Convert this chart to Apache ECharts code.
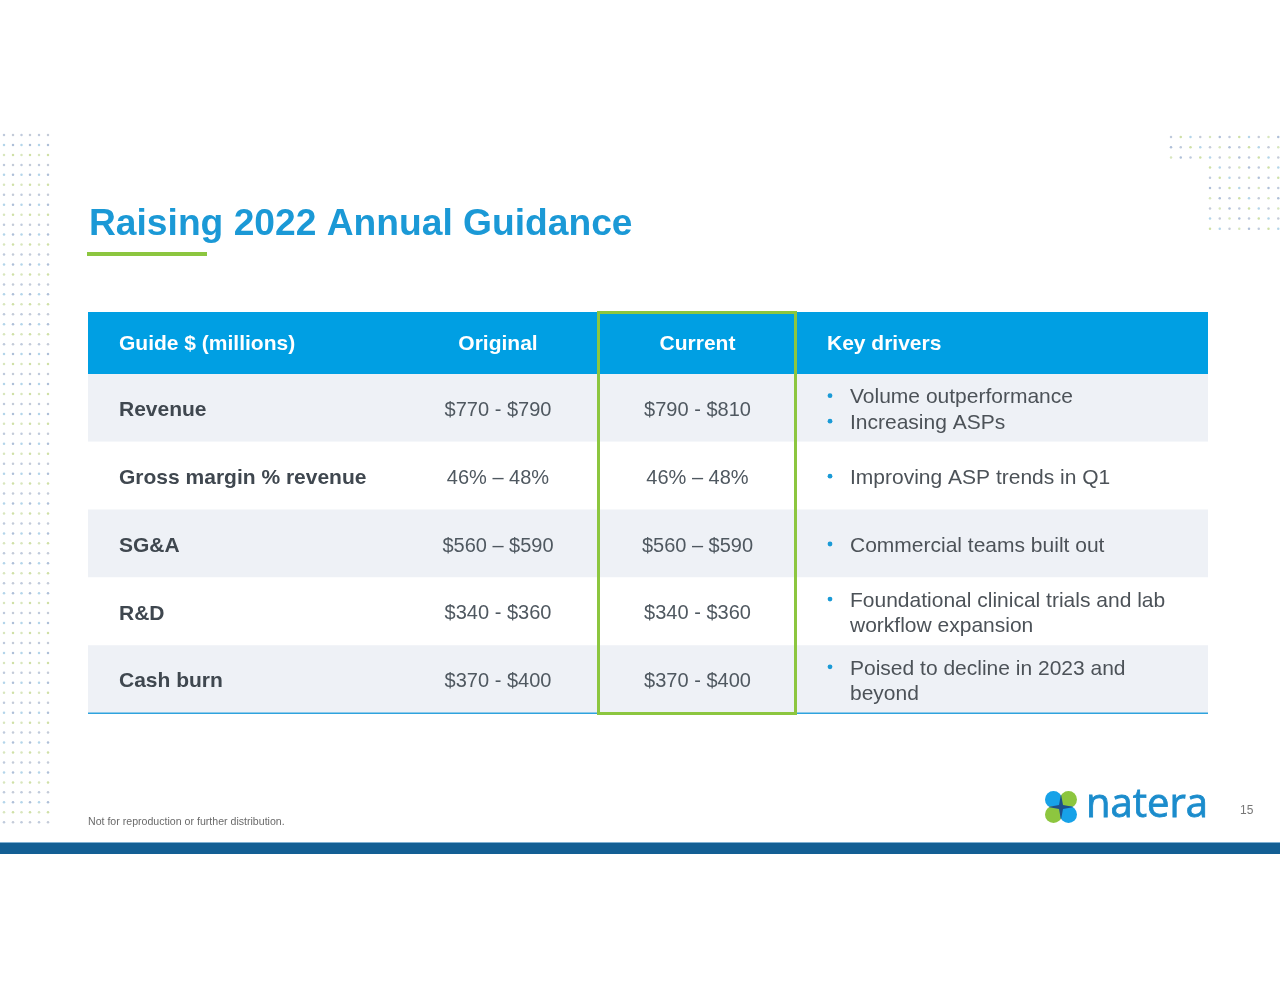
<!DOCTYPE html>
<html><head><meta charset="utf-8">
<script src="https://cdn.jsdelivr.net/npm/echarts@6/dist/echarts.min.js"></script>
<style>html,body{margin:0;padding:0;background:#fff}#c{width:1280px;height:989px}</style>
</head><body><div id="c"></div>
<script>
const title = 'Raising 2022 Annual Guidance';
const headers = ['Guide $ (millions)', 'Original', 'Current', 'Key drivers'];
const metrics = ['Revenue', 'Gross margin % revenue', 'SG&A', 'R&D', 'Cash burn'];
const originalGuide = ['$770 - $790', '46% – 48%', '$560 – $590', '$340 - $360', '$370 - $400'];
const currentGuide = ['$790 - $810', '46% – 48%', '$560 – $590', '$340 - $360', '$370 - $400'];
const keyDrivers = [
  ['Volume outperformance', 'Increasing ASPs'],
  ['Improving ASP trends in Q1'],
  ['Commercial teams built out'],
  ['Foundational clinical trials and lab\nworkflow expansion'],
  ['Poised to decline in 2023 and\nbeyond']
];
const footnote = 'Not for reproduction or further distribution.';
const pageNumber = '15';
const brand = 'natera';

const FONT = '"Liberation Sans", Arial, Helvetica, sans-serif';
const BLUE = '#009fe3';
const GREEN = '#8cc63f';
// column anchors in x-axis units (table width 1120)
const COL = { label: 31, original: 410, current: 609.5, bullet: 742, driver: 762 };
const TABLE_W = 1120;
const DY = 2.5; // text baseline nudge

const chart = echarts.init(document.getElementById('c'), null, { renderer: 'canvas' });

// decorative dot grids
const dotColors = ['#bfcadc', '#cfe0a6', '#b3d5ea', '#c4cbd8', '#d8e6bd', '#aebfd8'];
const dots = [];
const leftCols = [4, 13, 21.5, 30, 39, 48];
for (let r = 0; r < 70; r++) {
  for (let c = 0; c < leftCols.length; c++) {
    dots.push({ type: 'circle', silent: true, shape: { cx: leftCols[c], cy: 135 + r * 9.96, r: 1.25 },
      style: { fill: dotColors[(r * 2 + c * 3) % dotColors.length] } });
  }
}
for (let j = 0; j < 10; j++) {
  for (let k = 0; k < 12; k++) {
    if (j >= 3 && k < 4) continue;
    dots.push({ type: 'circle', silent: true, shape: { cx: 1171 + k * 9.75, cy: 137 + j * 10.2, r: 1.25 },
      style: { fill: dotColors[(j * 5 + k) % dotColors.length] } });
  }
}

const headerEls = [
  { type: 'rect', shape: { x: 88, y: 312, width: TABLE_W, height: 62 }, style: { fill: BLUE }, z: 50 },
  { type: 'text', x: 88 + COL.label, y: 342 + DY, z: 51, style: { text: headers[0], fill: '#fff', font: 'bold 21px ' + FONT, verticalAlign: 'middle', align: 'left' } },
  { type: 'text', x: 88 + COL.original, y: 342 + DY, z: 51, style: { text: headers[1], fill: '#fff', font: 'bold 21px ' + FONT, verticalAlign: 'middle', align: 'center' } },
  { type: 'text', x: 88 + COL.current, y: 342 + DY, z: 51, style: { text: headers[2], fill: '#fff', font: 'bold 21px ' + FONT, verticalAlign: 'middle', align: 'center' } },
  { type: 'text', x: 827, y: 342 + DY, z: 51, style: { text: headers[3], fill: '#fff', font: 'bold 21px ' + FONT, verticalAlign: 'middle', align: 'left' } }
];

const logo = [
  { type: 'circle', shape: { cx: 1053.5, cy: 799.5, r: 8.5 }, style: { fill: '#17a2e8' } },
  { type: 'circle', shape: { cx: 1068.5, cy: 799.5, r: 8.5 }, style: { fill: '#8dc63f' } },
  { type: 'circle', shape: { cx: 1053.5, cy: 814.5, r: 8.5 }, style: { fill: '#8dc63f' } },
  { type: 'circle', shape: { cx: 1068.5, cy: 814.5, r: 8.5 }, style: { fill: '#17a2e8' } },
  { type: 'polygon', shape: { points: [[1061, 794], [1063, 805], [1074, 807], [1063, 809], [1061, 820], [1059, 809], [1048, 807], [1059, 805]] }, style: { fill: '#1d4f8c' } },
  { type: 'text', x: 1086, y: 806, style: { text: brand, fill: '#1b8ccc', font: '40px "Open Sans", sans-serif', verticalAlign: 'middle', align: 'left', stroke: '#1b8ccc', lineWidth: 0.8 } }
];

const option = {
  animation: false,
  backgroundColor: '#fff',
  grid: { left: 88, top: 374, width: TABLE_W, height: 339 },
  xAxis: { type: 'value', min: 0, max: TABLE_W, show: false },
  yAxis: { type: 'category', data: metrics, inverse: true, show: false },
  series: [{
    type: 'custom',
    coordinateSystem: 'cartesian2d',
    data: metrics.map((m, i) => [0, i]),
    renderItem: function (params, api) {
      const i = params.dataIndex;
      const left = api.coord([0, i]);
      const right = api.coord([TABLE_W, i]);
      const bandH = api.size([0, 1])[1];
      const cy = left[1];
      const top = cy - bandH / 2;
      const xOf = v => api.coord([v, i])[0];
      const children = [
        { type: 'rect', shape: { x: left[0], y: top, width: right[0] - left[0], height: bandH },
          style: { fill: i % 2 === 0 ? '#eef1f6' : '#ffffff' } },
        { type: 'text', x: xOf(COL.label), y: cy + DY, style: { text: metrics[i], fill: '#3f474f', font: 'bold 21px ' + FONT, verticalAlign: 'middle', align: 'left' } },
        { type: 'text', x: xOf(COL.original), y: cy + DY, style: { text: originalGuide[i], fill: '#4f5860', font: '20px ' + FONT, verticalAlign: 'middle', align: 'center' } },
        { type: 'text', x: xOf(COL.current), y: cy + DY, style: { text: currentGuide[i], fill: '#4f5860', font: '20px ' + FONT, verticalAlign: 'middle', align: 'center' } }
      ];
      const lines = [];
      keyDrivers[i].forEach(item => item.split('\n').forEach((ln, k) => lines.push({ text: ln, bullet: k === 0 })));
      const lh = 25.5;
      const y0 = cy + DY - (lines.length - 1) * lh / 2;
      lines.forEach((ln, k) => {
        const y = y0 + k * lh;
        if (ln.bullet) children.push({ type: 'circle', shape: { cx: xOf(COL.bullet), cy: y - 2, r: 2.4 }, style: { fill: '#1a9ad6' } });
        children.push({ type: 'text', x: xOf(COL.driver), y: y, style: { text: ln.text, fill: '#4c5258', font: '21px ' + FONT, verticalAlign: 'middle', align: 'left' } });
      });
      if (i === metrics.length - 1) {
        children.push({ type: 'rect', shape: { x: left[0], y: top + bandH - 0.5, width: right[0] - left[0], height: 1.5 }, style: { fill: '#2ea3de' } });
      }
      return { type: 'group', children: children };
    }
  }],
  graphic: [].concat(dots, headerEls, logo, [
    { type: 'text', x: 89, y: 222 + DY, style: { text: title, fill: '#1b99d6', font: 'bold 37.2px ' + FONT, verticalAlign: 'middle', align: 'left' } },
    { type: 'rect', shape: { x: 87, y: 252, width: 120, height: 4 }, style: { fill: GREEN } },
    { type: 'rect', z: 100, shape: { x: 598.5, y: 312.5, width: 197, height: 401 }, style: { fill: 'none', stroke: GREEN, lineWidth: 3 } },
    { type: 'text', x: 88, y: 822, style: { text: footnote, fill: '#6a6a6a', font: '10.6px ' + FONT, verticalAlign: 'middle', align: 'left' } },
    { type: 'text', x: 1240, y: 811, style: { text: pageNumber, fill: '#777', font: '12px ' + FONT, verticalAlign: 'middle', align: 'left' } },
    { type: 'rect', shape: { x: 0, y: 842, width: 1280, height: 1 }, style: { fill: '#7fb0d2' } },
    { type: 'rect', shape: { x: 0, y: 843, width: 1280, height: 11 }, style: { fill: '#135f94' } }
  ])
};
chart.setOption(option);
</script>
</body></html>
